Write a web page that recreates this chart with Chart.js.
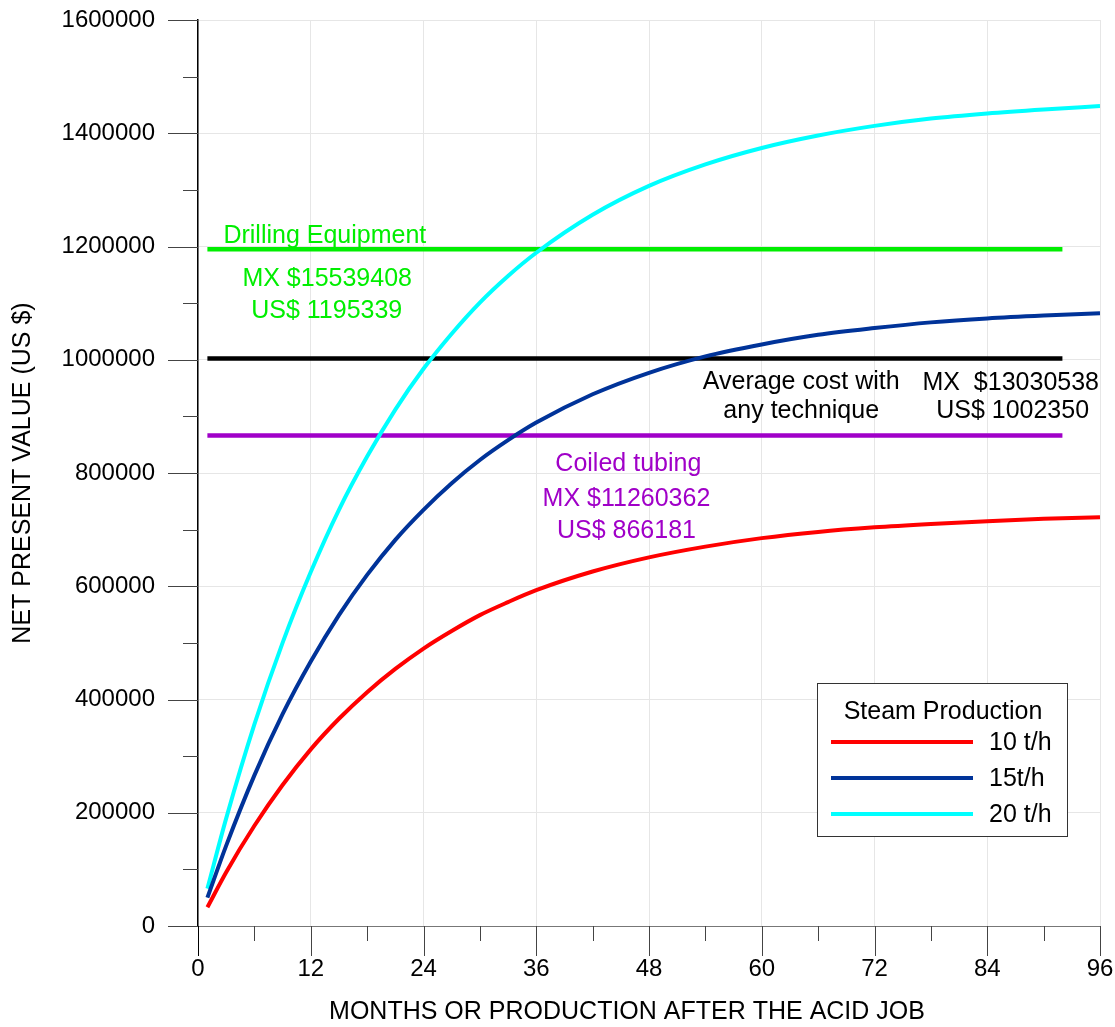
<!DOCTYPE html>
<html>
<head>
<meta charset="utf-8">
<script src="https://cdn.jsdelivr.net/npm/chart.js@4.4.0/dist/chart.umd.min.js"></script>
<style>
  html, body { margin: 0; padding: 0; background: #fff; }
  #wrap { width: 1115px; height: 1027px; }
</style>
</head>
<body>
<div id="wrap"><canvas id="npvChart"></canvas></div>
<script>
// months after the acid job
var months = [1, 3, 6, 9, 12, 15, 18, 21, 24, 27, 30, 33, 36, 42, 48, 54, 60, 66, 72, 78, 84, 90, 96];
// net present value (US $) per steam production
var npv10 = [33000, 95000, 177000, 249000, 312000, 366000, 413000, 454000, 490000, 521000, 549000, 572000, 593000, 626000, 651000, 670000, 685000, 696000, 704000, 710000, 715000, 719000, 722000];
var npv15 = [50000, 142000, 266000, 374000, 467000, 549000, 620000, 682000, 735000, 782000, 823000, 858000, 889000, 939000, 977000, 1006000, 1027000, 1044000, 1056000, 1066000, 1073000, 1078000, 1082000];
var npv20 = [66000, 190000, 356000, 500000, 625000, 735000, 829000, 912000, 984000, 1046000, 1101000, 1148000, 1189000, 1256000, 1307000, 1345000, 1374000, 1396000, 1413000, 1426000, 1435000, 1442000, 1448000];
var seriesLabels = ["10 t/h", "15t/h", "20 t/h"];

// cost lines
var refMonths = [1, 92];
var drillingCost = 1195339;
var averageCost = 1002350;
var coiledCost = 866181;

var xTickValues = [0, 12, 24, 36, 48, 60, 72, 84, 96];
var yTickValues = [0, 200000, 400000, 600000, 800000, 1000000, 1200000, 1400000, 1600000];

var FONT = "'Liberation Sans', Arial, sans-serif";
Chart.defaults.font.family = FONT;
Chart.defaults.font.size = 24;
Chart.defaults.color = "#000";

function pts(xs, ys) {
  return xs.map(function (x, i) { return { x: x, y: ys[i] }; });
}
function flat(v) {
  return refMonths.map(function (m) { return { x: m, y: v }; });
}

var notes = [
  { x: 13.5, y: 1218000, text: "Drilling Equipment", color: "#00ee00" },
  { x: 13.75, y: 1143000, text: "MX $15539408", color: "#00ee00" },
  { x: 13.7, y: 1086000, text: "US$ 1195339", color: "#00ee00" },
  { x: 64.2, y: 961000, text: "Average cost with", color: "#000" },
  { x: 64.2, y: 910000, text: "any technique", color: "#000" },
  { x: 86.5, y: 958000, text: "MX  $13030538", color: "#000" },
  { x: 86.7, y: 910000, text: "US$ 1002350", color: "#000" },
  { x: 45.8, y: 816000, text: "Coiled tubing", color: "#a000c8" },
  { x: 45.6, y: 754000, text: "MX $11260362", color: "#a000c8" },
  { x: 45.6, y: 698000, text: "US$ 866181", color: "#a000c8" }
];

var extras = {
  id: "extras",
  beforeDatasetsDraw: function (chart) {
    var ctx = chart.ctx, xs = chart.scales.x, ys = chart.scales.y;
    var a = chart.chartArea;
    ctx.save();
    ctx.strokeStyle = "#444";
    ctx.lineWidth = 1;
    for (var v = 0; v <= 1600000; v += 100000) {
      var py = Math.round(ys.getPixelForValue(v)) + 0.5;
      var len = v % 200000 === 0 ? 30 : 15;
      ctx.beginPath();
      ctx.moveTo(a.left - len, py);
      ctx.lineTo(a.left, py);
      ctx.stroke();
    }
    for (var m = 0; m <= 96; m += 6) {
      var px = Math.round(xs.getPixelForValue(m)) + 0.5;
      var l2 = m % 12 === 0 ? 30 : 15;
      ctx.strokeStyle = m === 0 ? "#000" : "#444";
      ctx.beginPath();
      ctx.moveTo(px, a.bottom);
      ctx.lineTo(px, a.bottom + l2);
      ctx.stroke();
    }
    // x axis title, sits a bit left of centre in the original
    ctx.fillStyle = "#000";
    ctx.font = "25px " + FONT;
    ctx.textAlign = "center";
    ctx.textBaseline = "middle";
    ctx.fillText("MONTHS OR PRODUCTION AFTER THE ACID JOB", a.left + 429, a.bottom + 86);
    ctx.restore();
  },
  afterDatasetsDraw: function (chart) {
    var ctx = chart.ctx, xs = chart.scales.x, ys = chart.scales.y;
    var a = chart.chartArea;
    ctx.save();
    ctx.font = "25px " + FONT;
    ctx.textAlign = "center";
    ctx.textBaseline = "middle";
    notes.forEach(function (n) {
      ctx.fillStyle = n.color;
      ctx.fillText(n.text, xs.getPixelForValue(n.x), ys.getPixelForValue(n.y));
    });

    // legend box
    var left = a.right - 283, right = a.right - 33;
    var top = a.bottom - 243, bottom = a.bottom - 90;
    ctx.fillStyle = "#fff";
    ctx.fillRect(left, top, right - left, bottom - top);
    ctx.strokeStyle = "#333";
    ctx.lineWidth = 1;
    ctx.strokeRect(left + 0.5, top + 0.5, right - left, bottom - top);
    ctx.fillStyle = "#000";
    ctx.font = "25px " + FONT;
    ctx.fillText("Steam Production", (left + right) / 2 + 1, top + 29);
    ctx.textAlign = "left";
    for (var i = 0; i < 3; i++) {
      var ds = chart.data.datasets[i];
      var y = top + 59 + i * 36;
      ctx.strokeStyle = ds.borderColor;
      ctx.lineWidth = 4;
      ctx.beginPath();
      ctx.moveTo(left + 14, y);
      ctx.lineTo(left + 156, y);
      ctx.stroke();
      ctx.fillStyle = "#000";
      ctx.font = "25px " + FONT;
      ctx.fillText(ds.label, left + 172, y + 1);
    }
    ctx.restore();
  }
};

var curve = { borderWidth: 4, pointRadius: 0, cubicInterpolationMode: "monotone", fill: false };
var flatLine = { borderWidth: 4.5, pointRadius: 0, fill: false };

new Chart(document.getElementById("npvChart"), {
  type: "line",
  data: {
    datasets: [
      Object.assign({ label: seriesLabels[0], data: pts(months, npv10), borderColor: "#ff0000" }, curve),
      Object.assign({ label: seriesLabels[1], data: pts(months, npv15), borderColor: "#003399" }, curve),
      Object.assign({ label: seriesLabels[2], data: pts(months, npv20), borderColor: "#00ffff" }, curve),
      Object.assign({ label: "Drilling Equipment", data: flat(drillingCost), borderColor: "#00ee00" }, flatLine),
      Object.assign({ label: "Average cost", data: flat(averageCost), borderColor: "#000000" }, flatLine),
      Object.assign({ label: "Coiled tubing", data: flat(coiledCost), borderColor: "#a000c8" }, flatLine)
    ]
  },
  options: {
    responsive: true,
    maintainAspectRatio: false,
    animation: false,
    layout: { padding: { top: 20, right: 15, bottom: 0, left: 0 } },
    plugins: { legend: { display: false }, tooltip: { enabled: false } },
    scales: {
      x: {
        type: "linear",
        min: 0,
        max: 96,
        afterBuildTicks: function (s) { s.ticks = xTickValues.map(function (v) { return { value: v }; }); },
        afterFit: function (s) { s.height = 101; s.paddingLeft = 0; s.paddingRight = 0; },
        grid: { color: "#e6e6e6", drawTicks: false },
        border: { color: "#777", width: 1 },
        ticks: { padding: 29, maxRotation: 0, font: { size: 24 }, callback: function (v) { return String(v); } },
        title: { display: false }
      },
      y: {
        min: 0,
        max: 1600000,
        afterBuildTicks: function (s) { s.ticks = yTickValues.map(function (v) { return { value: v }; }); },
        afterFit: function (s) { s.width = 198; s.paddingTop = 0; s.paddingBottom = 0; },
        grid: { color: "#e6e6e6", drawTicks: false },
        border: { color: "#000", width: 1.5 },
        ticks: { padding: 43, font: { size: 24 }, callback: function (v) { return String(v); } },
        title: { display: true, text: "NET PRESENT VALUE (US $)", padding: { top: 8, bottom: 0 }, font: { size: 25 } }
      }
    }
  },
  plugins: [extras]
});
</script>
</body>
</html>
